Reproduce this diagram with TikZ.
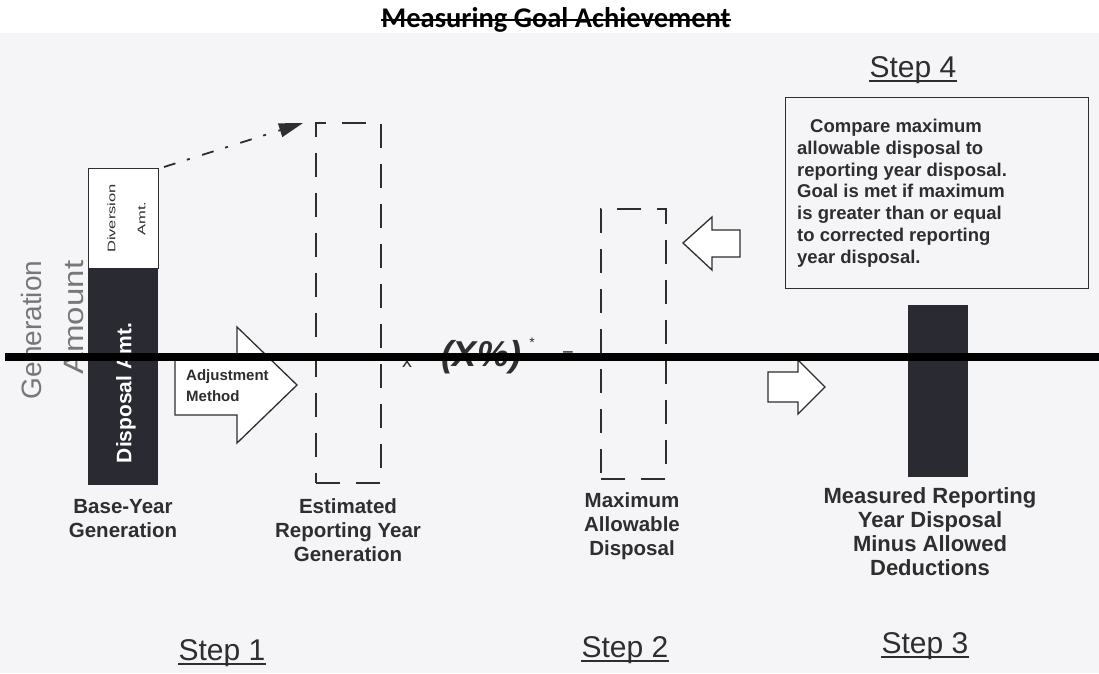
\documentclass[tikz,border=0pt]{standalone}
\usepackage{fontspec}
\setmainfont{Liberation Sans}
\newfontfamily\titlefont{Carlito}
\usetikzlibrary{calc,arrows.meta}
\definecolor{scanbg}{HTML}{F5F5F7}
\definecolor{bardark}{HTML}{2A2A32}
\definecolor{ink}{HTML}{2E2E2E}
\definecolor{axisgray}{HTML}{777777}
\begin{document}
\begin{tikzpicture}[x=1pt,y=-1pt,
 lbl/.style={font=\bfseries\fontsize{20.5}{24}\selectfont, align=center, text=ink, inner sep=0, anchor=base},
 steplbl/.style={font=\fontsize{30}{32}\selectfont, text=ink, inner sep=0, anchor=base},
 stepline/.style={draw=ink, line width=1.4pt},
 dashbox/.style={draw=ink, line width=1.8pt, dash pattern=on 24pt off 16pt, inner sep=0, anchor=north west},
 blockarrow/.style={draw=ink, line width=1.3pt, fill=white, line join=miter},
 solidbar/.style={fill=bardark, inner sep=0, anchor=north west},
]
\useasboundingbox (0,0) rectangle (1099,673);
\fill[scanbg] (0,33) rectangle (1099,673);

% title
\node[font=\titlefont\bfseries\fontsize{28.5}{30}\selectfont, inner sep=0, anchor=base] (title) at (556,27) {Measuring Goal Achievement};
\draw[line width=1.5pt] ($(title.base west)+(0,-7)$) -- ($(title.base east)+(0,-7)$);

% axis label
\node[rotate=90, font=\fontsize{28}{42}\selectfont, text=axisgray, align=right, inner sep=0] (genamt) at (52,330) {Generation\\\scalebox{1.18}[1]{Amount}};

% base-year bar
\node[draw=ink, line width=1pt, fill=white, minimum width=70pt, minimum height=100pt, inner sep=0, anchor=north west] (div) at (88,168) {};
\node[rotate=90, font=\fontsize{11}{30}\selectfont, align=center, text=ink, inner sep=0] (divtxt) at ([xshift=3pt]div.center) {\scalebox{1.5}[1]{Diversion}\\\scalebox{1.5}[1]{Amt.}};
\node[solidbar, minimum width=70pt, minimum height=217pt] (disp) at (88,268) {};
\node[rotate=90, text=white, font=\bfseries\fontsize{21}{24}\selectfont, inner sep=0] (disptxt) at (126,393) {Disposal Amt.};

% dash-dot arrow
\coordinate (dtip) at (303,123);
\draw[ink, line width=1.8pt, dash pattern=on 12pt off 12pt on 3pt off 13pt, -{Triangle[length=24pt,width=14pt]}] ([shift={(5,-1)}]div.north east) -- (dtip);

% dashed rectangles
\node[dashbox, minimum width=65pt, minimum height=360pt] (est) at (315,122) {};
\node[dashbox, minimum width=65pt, minimum height=270pt] (maxd) at (600,208) {};

% adjustment arrow
\draw[blockarrow] (175,355) -- (237,355) -- (237,327) -- (297,385) -- (237,443) -- (237,415) -- (175,415) -- cycle;
\node[font=\bfseries\fontsize{15}{21}\selectfont, align=left, anchor=north west, inner sep=0, text=ink] (adj) at (186,369) {Adjustment\\Method};

% x (X%)* =
\node[font=\fontsize{20}{20}\selectfont, text=ink, inner sep=0, anchor=base] (times) at (407,367) {x};
\node[font=\bfseries\itshape\fontsize{36}{40}\selectfont, text=ink, inner sep=0, anchor=base] (pct) at (481,366) {(X\%)};
\node[font=\fontsize{14}{16}\selectfont, text=ink, inner sep=0] (ast) at (532,343) {*};
\node[font=\fontsize{20}{20}\selectfont, text=ink, inner sep=0] (eq) at (568,357) {=};

% left arrow (step 4 to max)
\draw[blockarrow] (683,243) -- (712,217) -- (712,230) -- (740,230) -- (740,257) -- (712,257) -- (712,270) -- cycle;
% right arrow (to step 3)
\draw[blockarrow] (768,372) -- (798,372) -- (798,360) -- (825,387) -- (798,414) -- (798,402) -- (768,402) -- cycle;

% step 4 box
\node[draw=ink, line width=1.3pt, minimum width=303pt, minimum height=191pt, anchor=north west, inner sep=0] (cmpbox) at (785,97) {};
\node[font=\bfseries\fontsize{18.5}{21.7}\selectfont, align=left, anchor=base west, inner sep=0, text=ink] (cmptxt) at (797,263) {\hspace*{13pt}Compare maximum\\allowable disposal to\\reporting year disposal.\\Goal is met if maximum\\is greater than or equal\\to corrected reporting\\year disposal.};

% step 3 bar
\node[solidbar, minimum width=60pt, minimum height=172pt] (meas) at (908,305) {};

% labels (base anchor = baseline of last line)
\node[lbl] (lbase) at (123,537) {Base-Year\\Generation};
\node[lbl] (lest) at (348,561) {Estimated\\Reporting Year\\Generation};
\node[lbl] (lmax) at (632,555) {Maximum\\Allowable\\Disposal};
\node[lbl, font=\bfseries\fontsize{22}{24}\selectfont] (lmeas) at (930,575) {Measured Reporting\\Year Disposal\\Minus Allowed\\Deductions};

% steps
\node[steplbl] (s1) at (222,660) {Step 1};
\draw[stepline] ($(s1.base west)+(0,4)$) -- ($(s1.base east)+(0,4)$);
\node[steplbl] (s2) at (625,657) {Step 2};
\draw[stepline] ($(s2.base west)+(0,4)$) -- ($(s2.base east)+(0,4)$);
\node[steplbl] (s3) at (925,653) {Step 3};
\draw[stepline] ($(s3.base west)+(0,4)$) -- ($(s3.base east)+(0,4)$);
\node[steplbl] (s4) at (913,77) {Step 4};
\draw[stepline] ($(s4.base west)+(0,4)$) -- ($(s4.base east)+(0,4)$);

% thick line
\coordinate (hl) at (5,357);
\coordinate (hr) at (1099,357);
\draw[line width=8pt, black] (hl) -- (hr);
\end{tikzpicture}
\end{document}
